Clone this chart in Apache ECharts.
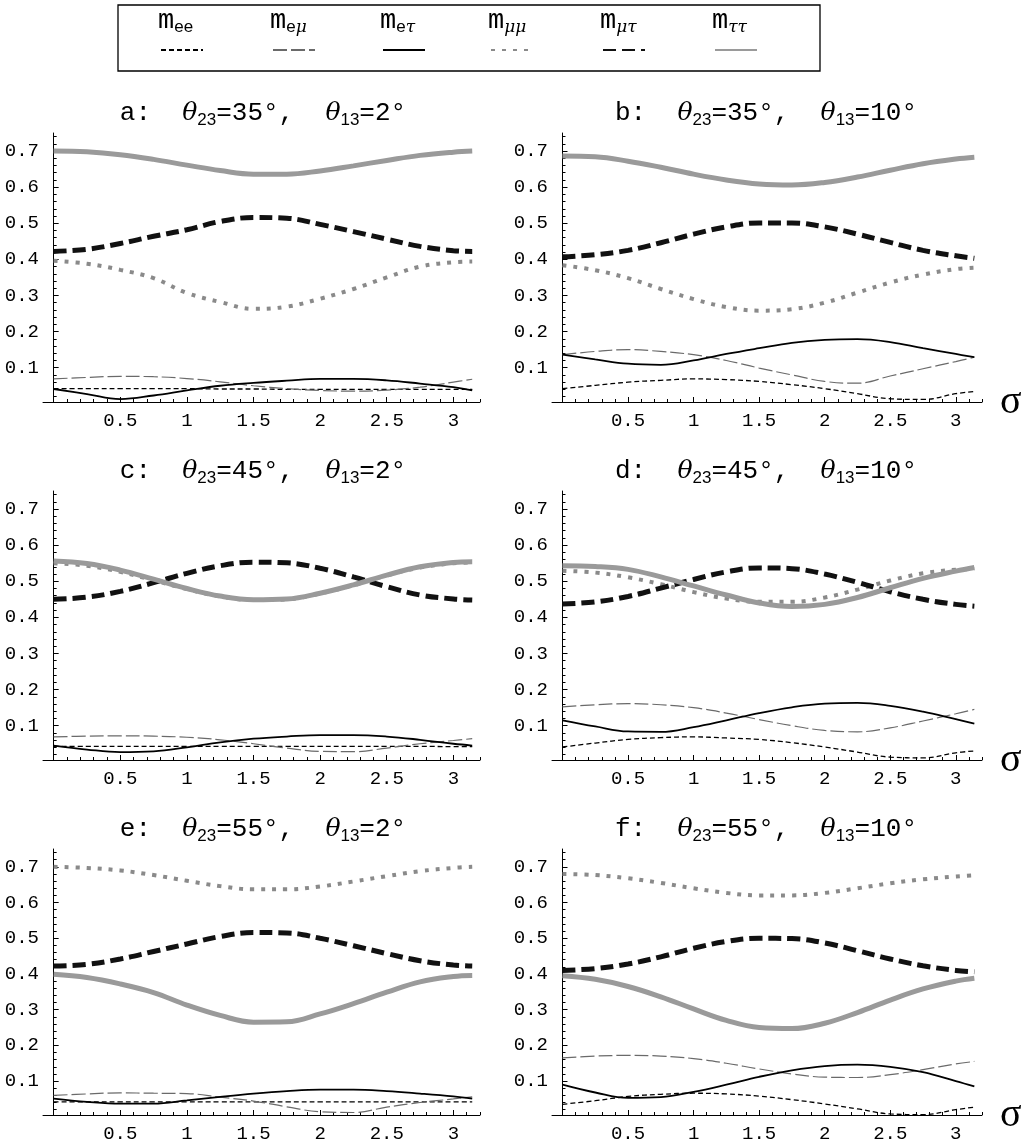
<!DOCTYPE html>
<html>
<head>
<meta charset="utf-8">
<script src="https://cdn.jsdelivr.net/npm/echarts@6/dist/echarts.min.js"></script>
<style>
html, body { margin: 0; padding: 0; background: #fff; }
#chart { width: 1032px; height: 1143px; }
</style>
</head>
<body>
<div id="chart"></div>
<script>
const sigma = [0, 0.25, 0.5, 0.75, 1, 1.25, 1.5, 1.75, 2, 2.25, 2.5, 2.75, 3, 3.1416];

// a: th23=35, th13=2
const aEe   = [0.042, 0.042, 0.042, 0.042, 0.042, 0.041, 0.041, 0.040, 0.040, 0.040, 0.040, 0.040, 0.040, 0.040];
const aEmu  = [0.069, 0.073, 0.076, 0.075, 0.070, 0.061, 0.050, 0.042, 0.037, 0.035, 0.038, 0.046, 0.060, 0.068];
const aEtau = [0.041, 0.027, 0.013, 0.023, 0.037, 0.050, 0.058, 0.064, 0.069, 0.069, 0.065, 0.056, 0.046, 0.037];
const aMumu = [0.396, 0.388, 0.371, 0.348, 0.307, 0.282, 0.263, 0.269, 0.291, 0.318, 0.350, 0.380, 0.392, 0.394];
const aMutau = [0.422, 0.428, 0.444, 0.464, 0.482, 0.505, 0.516, 0.514, 0.497, 0.477, 0.456, 0.436, 0.424, 0.422];
const aTautau = [0.700, 0.698, 0.690, 0.677, 0.661, 0.646, 0.636, 0.636, 0.645, 0.659, 0.674, 0.688, 0.697, 0.700];

// b: th23=35, th13=10
const bEe   = [0.042, 0.051, 0.060, 0.065, 0.069, 0.067, 0.062, 0.053, 0.042, 0.028, 0.014, 0.012, 0.028, 0.034];
const bEmu  = [0.136, 0.145, 0.150, 0.145, 0.136, 0.120, 0.099, 0.080, 0.062, 0.057, 0.077, 0.097, 0.117, 0.129];
const bEtau = [0.136, 0.123, 0.111, 0.108, 0.120, 0.138, 0.154, 0.169, 0.177, 0.179, 0.171, 0.154, 0.138, 0.129];
const bMumu = [0.384, 0.370, 0.348, 0.318, 0.290, 0.268, 0.258, 0.262, 0.280, 0.308, 0.336, 0.358, 0.373, 0.377];
const bMutau = [0.407, 0.413, 0.425, 0.446, 0.470, 0.490, 0.501, 0.501, 0.490, 0.470, 0.447, 0.425, 0.410, 0.403];
const bTautau = [0.686, 0.684, 0.672, 0.655, 0.636, 0.620, 0.609, 0.606, 0.613, 0.628, 0.647, 0.665, 0.678, 0.683];

// c: th23=45, th13=2
const cEe   = [0.043, 0.043, 0.043, 0.043, 0.043, 0.043, 0.043, 0.043, 0.043, 0.043, 0.043, 0.043, 0.042, 0.042];
const cEmu  = [0.069, 0.071, 0.072, 0.071, 0.068, 0.061, 0.050, 0.038, 0.029, 0.028, 0.038, 0.050, 0.059, 0.064];
const cEtau = [0.045, 0.034, 0.027, 0.029, 0.040, 0.054, 0.064, 0.070, 0.074, 0.074, 0.070, 0.061, 0.050, 0.045];
const cMumu = [0.550, 0.543, 0.526, 0.503, 0.478, 0.458, 0.448, 0.450, 0.466, 0.489, 0.516, 0.538, 0.550, 0.552];
const cMutau = [0.450, 0.456, 0.472, 0.496, 0.522, 0.543, 0.553, 0.551, 0.536, 0.512, 0.485, 0.462, 0.451, 0.448];
const cTautau = [0.556, 0.549, 0.531, 0.506, 0.480, 0.459, 0.449, 0.451, 0.467, 0.490, 0.517, 0.540, 0.552, 0.554];

// d: th23=45, th13=10
const dEe   = [0.041, 0.052, 0.062, 0.067, 0.069, 0.066, 0.062, 0.053, 0.041, 0.027, 0.013, 0.011, 0.025, 0.030];
const dEmu  = [0.152, 0.158, 0.161, 0.158, 0.150, 0.135, 0.117, 0.100, 0.087, 0.083, 0.094, 0.113, 0.133, 0.145];
const dEtau = [0.115, 0.098, 0.084, 0.083, 0.096, 0.115, 0.135, 0.151, 0.161, 0.163, 0.155, 0.139, 0.118, 0.106];
const dMumu = [0.529, 0.524, 0.511, 0.492, 0.470, 0.452, 0.443, 0.443, 0.455, 0.477, 0.502, 0.522, 0.532, 0.534];
const dMutau = [0.437, 0.443, 0.458, 0.481, 0.505, 0.526, 0.537, 0.535, 0.520, 0.497, 0.471, 0.450, 0.436, 0.431];
const dTautau = [0.543, 0.541, 0.533, 0.512, 0.487, 0.462, 0.440, 0.430, 0.436, 0.455, 0.482, 0.508, 0.528, 0.538];

// e: th23=55, th13=2
const eEe   = [0.042, 0.042, 0.042, 0.042, 0.042, 0.042, 0.042, 0.042, 0.042, 0.042, 0.042, 0.042, 0.042, 0.042];
const eEmu  = [0.060, 0.064, 0.067, 0.066, 0.065, 0.055, 0.044, 0.028, 0.014, 0.012, 0.027, 0.040, 0.050, 0.056];
const eEtau = [0.051, 0.042, 0.037, 0.037, 0.046, 0.056, 0.065, 0.072, 0.076, 0.076, 0.072, 0.065, 0.057, 0.051];
const eMumu = [0.700, 0.697, 0.690, 0.677, 0.661, 0.646, 0.637, 0.637, 0.645, 0.659, 0.674, 0.688, 0.697, 0.700];
const eMutau = [0.422, 0.427, 0.442, 0.463, 0.484, 0.505, 0.516, 0.515, 0.500, 0.479, 0.457, 0.437, 0.425, 0.422];
const eTautau = [0.399, 0.390, 0.372, 0.348, 0.313, 0.284, 0.265, 0.266, 0.288, 0.317, 0.349, 0.378, 0.393, 0.396];

// f: th23=55, th13=10
const fEe   = [0.035, 0.045, 0.057, 0.063, 0.066, 0.064, 0.058, 0.048, 0.036, 0.022, 0.008, 0.006, 0.020, 0.027];
const fEmu  = [0.165, 0.170, 0.172, 0.170, 0.163, 0.150, 0.134, 0.120, 0.111, 0.110, 0.118, 0.132, 0.148, 0.155];
const fEtau = [0.090, 0.068, 0.053, 0.055, 0.070, 0.090, 0.112, 0.130, 0.142, 0.146, 0.140, 0.125, 0.100, 0.085];
const fMumu = [0.680, 0.677, 0.668, 0.655, 0.640, 0.627, 0.620, 0.620, 0.627, 0.640, 0.654, 0.665, 0.673, 0.676];
const fMutau = [0.410, 0.415, 0.428, 0.448, 0.472, 0.491, 0.500, 0.499, 0.487, 0.465, 0.442, 0.423, 0.410, 0.406];
const fTautau = [0.395, 0.385, 0.365, 0.336, 0.302, 0.270, 0.250, 0.247, 0.262, 0.292, 0.327, 0.358, 0.380, 0.388];

const panelLetters = ['a', 'b', 'c', 'd', 'e', 'f'];
const theta23 = ['35', '35', '45', '45', '55', '55'];
const theta13 = ['2', '10', '2', '10', '2', '10'];
const seriesNames = ['m_ee', 'm_eμ', 'm_eτ', 'm_μμ', 'm_μτ', 'm_ττ'];
const legendLabels = ['{m|m}{s|ee}', '{m|m}{s|e}{g|μ}', '{m|m}{s|e}{g|τ}', '{m|m}{g|μμ}', '{m|m}{g|μτ}', '{m|m}{g|ττ}'];
const yTicks = [0.1, 0.2, 0.3, 0.4, 0.5, 0.6, 0.7];
const xTicks = [0.5, 1, 1.5, 2, 2.5, 3];

const panelData = [
  [aEe, aEmu, aEtau, aMumu, aMutau, aTautau],
  [bEe, bEmu, bEtau, bMumu, bMutau, bTautau],
  [cEe, cEmu, cEtau, cMumu, cMutau, cTautau],
  [dEe, dEmu, dEtau, dMumu, dMutau, dTautau],
  [eEe, eEmu, eEtau, eMumu, eMutau, eTautau],
  [fEe, fEmu, fEtau, fMumu, fMutau, fTautau]
];

// minor ticks (0.02 on y, 0.1 on x)
const yMinor = [];
for (let k = 1; k <= 37; k++) if (k % 5 !== 0) yMinor.push(+(k * 0.02).toFixed(2));
const xMinor = [];
for (let k = 1; k <= 32; k++) if (k % 5 !== 0) xMinor.push(+(k * 0.1).toFixed(1));

const lineStyles = [
  { color: '#000', width: 1.3, type: [5, 3] },
  { color: '#6a6a6a', width: 1.2, type: [14, 4] },
  { color: '#000', width: 1.8, type: 'solid' },
  { color: '#8a8a8a', width: 4, type: [4, 7] },
  { color: '#111', width: 5, type: [13, 6] },
  { color: '#9a9a9a', width: 5, type: 'solid' }
];

const cols = [{ left: 43, width: 437 }, { left: 552, width: 430 }];
const rows = [133, 491, 849];
const gridH = 269;
const mono = 'Liberation Mono';

const grid = [], xAxis = [], yAxis = [], series = [], title = [];
panelData.forEach((vals, i) => {
  const col = cols[i % 2];
  const top = rows[Math.floor(i / 2)];
  grid.push({ left: col.left, top: top, width: col.width, height: gridH });
  const xBase = { gridIndex: i, type: 'value', min: -0.08, max: 3.2, splitLine: { show: false }, axisLine: { onZero: false } };
  xAxis.push(Object.assign({}, xBase, {
    position: 'bottom',
    axisLine: { onZero: false, lineStyle: { color: '#000', width: 1 } },
    axisTick: { inside: true, length: 5, customValues: xTicks, lineStyle: { color: '#000' } },
    axisLabel: { customValues: xTicks, margin: 9, color: '#000', fontFamily: mono, fontSize: 19 },
    name: i % 2 === 1 ? 'σ' : '',
    nameLocation: 'end',
    nameGap: 18,
    nameTextStyle: { fontFamily: 'Liberation Serif', fontSize: 40, color: '#000', verticalAlign: 'middle', padding: [6, 0, 0, 0] }
  }));
  xAxis.push(Object.assign({}, xBase, {
    position: 'bottom',
    axisLine: { show: false, onZero: false },
    axisTick: { inside: true, length: 3, customValues: xMinor, lineStyle: { color: '#000' } },
    axisLabel: { show: false }
  }));
  const yBase = { gridIndex: i, type: 'value', min: 0.005, max: 0.75, position: 'left', splitLine: { show: false } };
  yAxis.push(Object.assign({}, yBase, {
    axisLine: { show: true, onZero: true, lineStyle: { color: '#000', width: 1 } },
    axisTick: { show: true, inside: true, length: 5, customValues: yTicks, lineStyle: { color: '#000' } },
    axisLabel: { customValues: yTicks, margin: 4, color: '#000', fontFamily: mono, fontSize: 19 }
  }));
  yAxis.push(Object.assign({}, yBase, {
    axisLine: { show: false, onZero: true },
    axisTick: { show: true, inside: true, length: 3, customValues: yMinor, lineStyle: { color: '#000' } },
    axisLabel: { show: false }
  }));
  vals.forEach((v, j) => {
    series.push({
      name: seriesNames[j],
      type: 'line',
      xAxisIndex: 2 * i,
      yAxisIndex: 2 * i,
      data: sigma.map((s, k) => [s, v[k]]),
      smooth: 0.4,
      symbol: 'none',
      itemStyle: { color: lineStyles[j].color },
      lineStyle: lineStyles[j],
      z: 2 + j
    });
  });
  title.push({
    text: '{t|' + panelLetters[i] + ':  }{th|θ}{s|23}{t|=' + theta23[i] + '°,  }{th|θ}{s|13}{t|=' + theta13[i] + '°}',
    left: i % 2 === 0 ? 263 : 766,
    top: top - 36,
    textAlign: 'center',
    padding: 0,
    textStyle: {
      fontWeight: 'normal',
      rich: {
        t: { fontFamily: mono, fontSize: 26, fontWeight: 'normal', color: '#000' },
        th: { fontFamily: 'DejaVu Serif', fontStyle: 'italic', fontWeight: 'normal', fontSize: 25, color: '#000' },
        s: { fontFamily: 'Liberation Sans', fontSize: 17, fontWeight: 'normal', color: '#000', padding: [15, 0, 0, 0] }
      }
    }
  });
});

const legendLeft = [160, 272, 382, 490, 602, 714];
const legend = seriesNames.map((n, j) => ({
  data: [n],
  left: legendLeft[j],
  top: 44,
  itemWidth: 42,
  itemHeight: 12,
  padding: 0,
  itemGap: 0,
  selectedMode: false,
  itemStyle: { opacity: 0 },
  formatter: () => '',
  textStyle: { fontSize: 1 }
}));

const graphic = [
  { type: 'rect', shape: { x: 118, y: 5, width: 702, height: 66 }, style: { fill: 'none', stroke: '#000', lineWidth: 1.3 } }
];
legendLabels.forEach((t, j) => {
  graphic.push({
    type: 'text',
    left: legendLeft[j] - 2,
    top: 7,
    style: {
      text: t,
      rich: {
        m: { fontFamily: mono, fontSize: 27, fill: '#000' },
        s: { fontFamily: 'Liberation Sans', fontSize: 17, fill: '#000', padding: [14, 0, 0, 0] },
        g: { fontFamily: 'DejaVu Serif', fontStyle: 'italic', fontSize: 17, fill: '#000', padding: [14, 0, 0, 0] }
      }
    }
  });
});

const chart = echarts.init(document.getElementById('chart'));
chart.setOption({
  animation: false,
  backgroundColor: '#fff',
  title: title,
  legend: legend,
  grid: grid,
  xAxis: xAxis,
  yAxis: yAxis,
  series: series,
  graphic: graphic
});
</script>
</body>
</html>
